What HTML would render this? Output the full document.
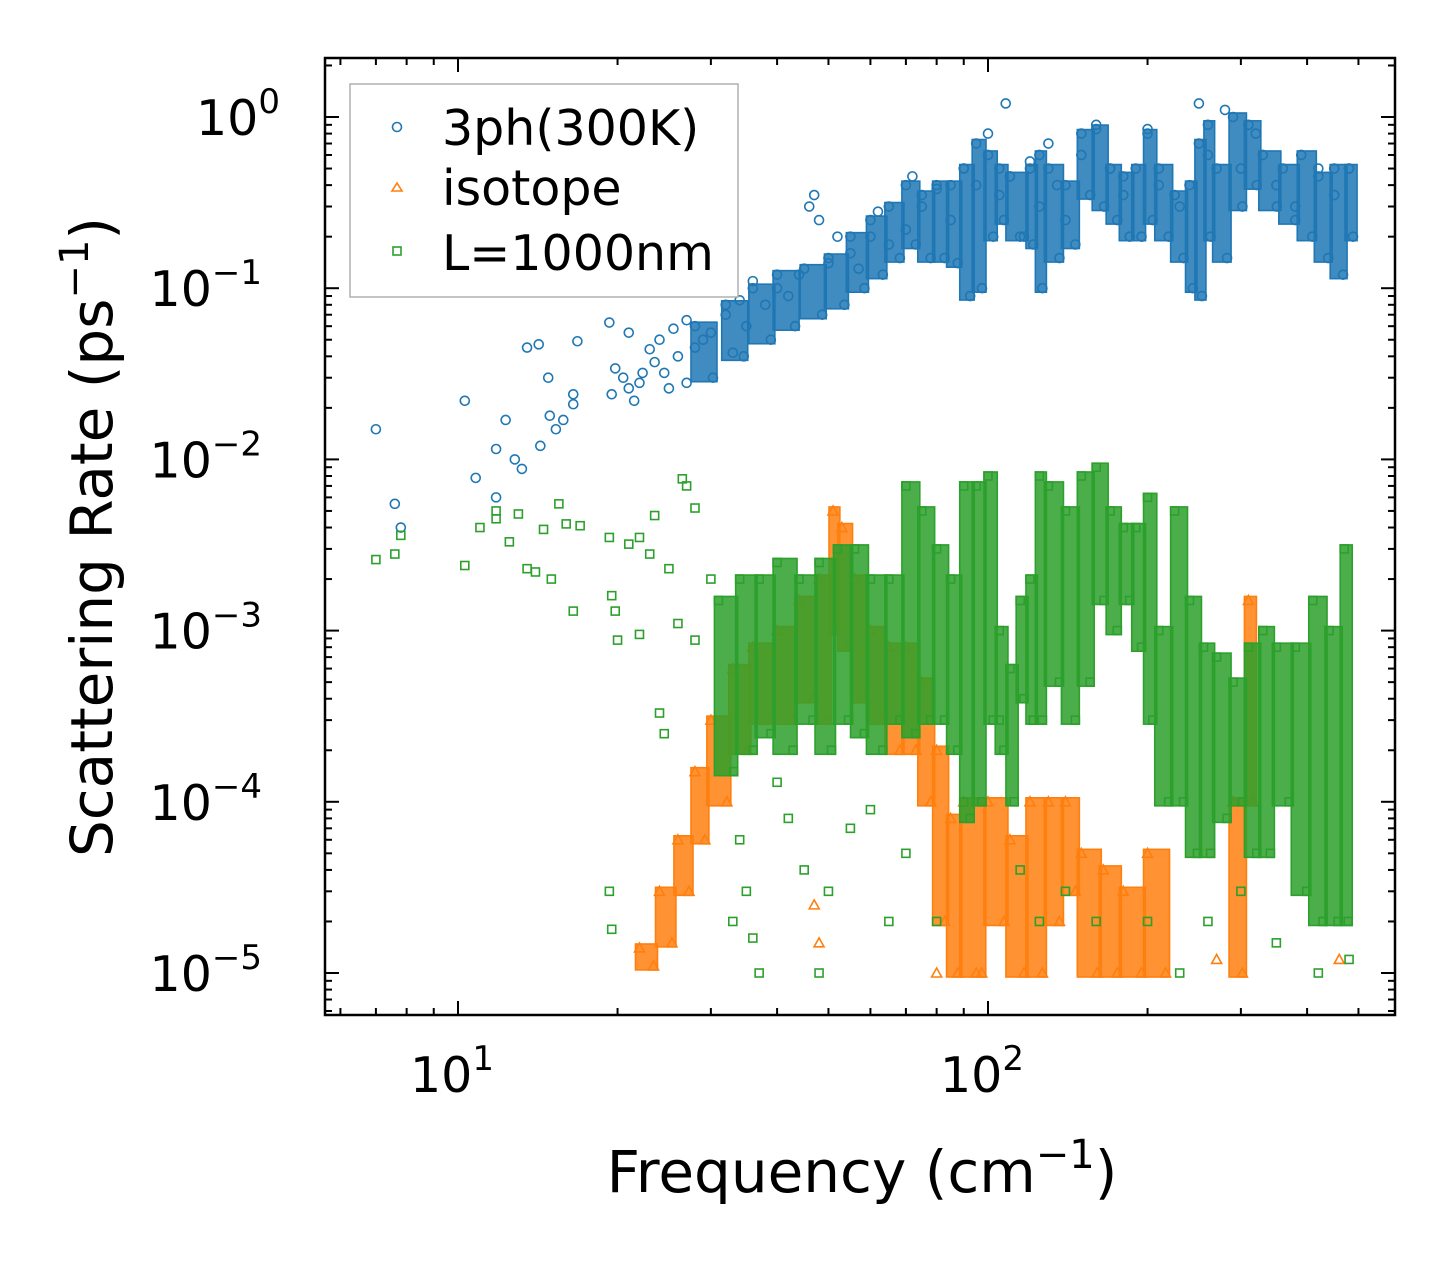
<!DOCTYPE html>
<html><head><meta charset="utf-8"><style>
body{margin:0;background:#fff;}
svg text{font-family:"DejaVu Sans","Liberation Sans",sans-serif;fill:#000;}
</style></head><body>
<svg id="chart" width="1455" height="1265" viewBox="0 0 1455 1265" xmlns="http://www.w3.org/2000/svg">
<g id="plot"></g>
<g id="axes"></g>
<text x="862" y="1192" font-size="58" text-anchor="middle">Frequency (cm<tspan dy="-24" font-size="40">−1</tspan><tspan dy="24">)</tspan></text>
<text transform="translate(112,537) rotate(-90)" font-size="58" text-anchor="middle">Scattering Rate (ps<tspan dy="-24" font-size="40">−1</tspan><tspan dy="24">)</tspan></text>
<g>
<rect x="350" y="84" width="388" height="213" fill="#fff" fill-opacity="0.8" stroke="#b0b0b0" stroke-width="1.5"/>
<g><circle cx="397" cy="127" r="4.5" fill="none" stroke="#1f77b4" stroke-width="1.6"/><text x="442" y="145" font-size="49">3ph(300K)</text></g>
<g><polygon points="397,183 402,191 392,191" fill="none" stroke="#ff7f0e" stroke-width="1.6"/><text x="442" y="205" font-size="49">isotope</text></g>
<g><rect x="393" y="247" width="8" height="8" fill="none" stroke="#2ca02c" stroke-width="1.6"/><text x="442" y="270" font-size="49">L=1000nm</text></g>
</g>
</svg>
<script>
const blueF=[7,7.6,7.8,10.3,10.8,11.8,11.8,12.3,12.8,13.2,13.5,14.2,14.3,14.8,14.9,15.3,15.8,16.5,16.8,16.5,19.3,19.5,19.8,20.5,21,21,21.5,22,22.3,23,23.5,24,24.5,25,25.5,26,27,27,28,29,30,32,33,34,35,36,38,40,42,44,46,47,48,50,52,55,57,60,62,65,70,72,75,80,85,90,95,100,105,108,110,115,120,125,130,135,140,150,160,170,180,200,210,230,250,260,280,300,320,350,380,420,450,480];
const blueR=[0.015,0.0055,0.004,0.022,0.0078,0.0115,0.006,0.017,0.01,0.0088,0.045,0.047,0.012,0.03,0.018,0.015,0.017,0.024,0.049,0.021,0.063,0.024,0.034,0.03,0.026,0.055,0.022,0.028,0.032,0.044,0.037,0.05,0.032,0.026,0.058,0.04,0.028,0.065,0.045,0.05,0.055,0.07,0.042,0.085,0.06,0.11,0.08,0.1,0.09,0.12,0.3,0.35,0.25,0.14,0.2,0.16,0.13,0.2,0.28,0.18,0.22,0.45,0.3,0.38,0.25,0.5,0.4,0.8,0.35,1.2,0.45,0.2,0.55,0.3,0.7,0.4,0.25,0.6,0.9,0.5,0.35,0.85,0.4,0.3,1.2,0.6,1.1,0.5,0.8,0.4,0.3,0.5,0.35,0.5];
const blueBandF=[28,32,36,40,45,50,55,60,65,70,75,80,85,90,95,100,105,110,120,125,130,140,150,160,170,180,190,200,210,225,240,250,260,270,290,310,330,360,390,420,450,480];
const blueBandLo=[0.03,0.04,0.05,0.06,0.07,0.08,0.1,0.12,0.15,0.18,0.15,0.15,0.14,0.09,0.1,0.2,0.25,0.2,0.18,0.1,0.15,0.18,0.35,0.3,0.25,0.2,0.2,0.25,0.2,0.15,0.1,0.09,0.2,0.15,0.3,0.4,0.3,0.25,0.2,0.15,0.12,0.2];
const blueBandHi=[0.06,0.08,0.1,0.12,0.13,0.15,0.2,0.25,0.3,0.4,0.35,0.4,0.4,0.5,0.7,0.6,0.5,0.45,0.5,0.6,0.5,0.4,0.8,0.85,0.5,0.45,0.5,0.8,0.5,0.35,0.4,0.7,0.9,0.5,1.0,0.9,0.6,0.5,0.6,0.45,0.5,0.5];
const isoF=[47,48,80,95,270,460];
const isoR=[0.000025,0.000015,0.00001,0.00001,0.000012,0.000012];
const isoBandF=[22,24,26,28,30,33,36,40,44,48,51,53,56,60,65,70,75,80,85,90,100,110,120,130,140,150,165,180,200,290,310];
const isoBandLo=[0.000011,0.000015,0.00003,0.00006,0.0001,0.0002,0.0003,0.0003,0.0004,0.0003,0.001,0.0008,0.0004,0.0003,0.0002,0.0002,0.0001,0.00002,0.00001,0.00001,0.00002,0.00001,0.00001,0.00002,0.00003,0.00001,0.00001,0.00001,0.00001,0.00001,0.0001];
const isoBandHi=[0.000014,0.00003,0.00006,0.00015,0.0003,0.0006,0.0008,0.001,0.0015,0.002,0.005,0.004,0.002,0.001,0.0008,0.0008,0.0005,0.0002,0.00008,0.0001,0.0001,0.00006,0.0001,0.0001,0.0001,0.00005,0.00004,0.00003,0.00005,0.0001,0.0015];
const bndF=[7,7.6,7.8,10.3,11,11.8,11.8,12.5,13,13.5,14,14.5,15,15.5,16,16.5,17,19.3,19.5,19.3,19.5,19.8,20,21,22,22,23,23.5,24,24.5,25,26,26.5,27,28,28,30,33,34,35,36,37,40,42,45,48,50,55,60,65,70,80,90,105,115,125,140,160,200,230,260,300,350,420,480];
const bndR=[0.0026,0.0028,0.0036,0.0024,0.004,0.0045,0.005,0.0033,0.0048,0.0023,0.0022,0.0039,0.002,0.0055,0.0042,0.0013,0.0041,0.0035,0.0016,0.00003,0.000018,0.0013,0.00088,0.0032,0.0035,0.00095,0.0028,0.0047,0.00033,0.00025,0.0023,0.0011,0.0077,0.007,0.0052,0.00088,0.002,0.00002,0.00006,0.00003,0.000016,0.00001,0.00013,0.00008,0.00004,0.00001,0.00003,0.00007,0.00009,0.00002,0.00005,0.00002,0.0001,0.0003,0.00004,0.00002,0.00003,0.00002,0.00002,0.00001,0.00002,0.00003,0.000015,0.00001,0.000012];
const bndBandF=[31,34,37,40,44,48,52,56,60,65,70,75,80,85,90,95,100,105,110,115,120,125,130,140,150,160,170,180,190,200,210,225,240,255,270,290,310,330,350,380,410,440,470];
const bndBandLo=[0.00015,0.0002,0.00025,0.0002,0.0003,0.0002,0.0003,0.00025,0.0002,0.0003,0.00025,0.0003,0.0003,0.0002,0.00008,0.0001,0.0003,0.0002,0.0001,0.0004,0.0003,0.0003,0.0005,0.0003,0.0005,0.0015,0.001,0.0015,0.0008,0.0003,0.0001,0.0001,0.00005,0.00005,0.00008,0.0001,0.00005,0.00005,0.0001,0.00003,0.00002,0.00002,0.00002];
const bndBandHi=[0.0015,0.002,0.002,0.0025,0.002,0.0025,0.003,0.003,0.002,0.002,0.007,0.005,0.003,0.002,0.007,0.007,0.008,0.001,0.0006,0.0015,0.002,0.008,0.007,0.005,0.008,0.009,0.005,0.004,0.004,0.006,0.001,0.005,0.0015,0.0008,0.0007,0.0005,0.0008,0.001,0.0008,0.0008,0.0015,0.001,0.003];
const xTickVals=[10,100];
const xTickLabels=["1","2"];
const yTickVals=[1,0.1,0.01,0.001,0.0001,0.00001];
const yTickLabels=["0","−1","−2","−3","−4","−5"];

const L=325,R=1395,T=58,B=1015;
const X=f=>458+530*(Math.log10(f)-1);
const Y=r=>117-171.2*Math.log10(r);
const NS="http://www.w3.org/2000/svg";
const plot=document.getElementById('plot'),axes=document.getElementById('axes');
function mk(tag,attrs,parent){const e=document.createElementNS(NS,tag);for(const k in attrs)e.setAttribute(k,attrs[k]);parent.appendChild(e);return e;}
function marker(kind,x,y,color,g){
  if(kind==='c')return mk('circle',{cx:x,cy:y,r:4.5,fill:'none',stroke:color,'stroke-width':1.6},g);
  if(kind==='t')return mk('polygon',{points:`${x},${y-5} ${x+5},${y+4} ${x-5},${y+4}`,fill:'none',stroke:color,'stroke-width':1.6},g);
  return mk('rect',{x:x-4,y:y-4,width:8,height:8,fill:'none',stroke:color,'stroke-width':1.6},g);
}
function series(name,kind,color,F,Rv,BF,BL,BH){
  const g=mk('g',{},plot);
  
  
  BF.forEach((f,i)=>{
    const x=X(f);const nx=i<BF.length-1?X(BF[i+1]):x+10;const w=Math.min(Math.max(nx-x+2,8),26);
    const y1=Y(BH[i])-4,y2=Y(BL[i])+4;
    const r=mk('rect',{x:x-4,y:y1,width:w,height:y2-y1,fill:color,'fill-opacity':0.85,stroke:color,'stroke-width':1.6},g);
    
    
    marker(kind,x,Y(BH[i]),color,g);marker(kind,x+w-8,Y(BL[i]),color,g);
  });
  F.forEach((f,i)=>{
    const m=marker(kind,X(f),Y(Rv[i]),color,g);
    
    
  });
}
series('series-3ph','c','#1f77b4',blueF,blueR,blueBandF,blueBandLo,blueBandHi);
series('series-isotope','t','#ff7f0e',isoF,isoR,isoBandF,isoBandLo,isoBandHi);
series('series-boundary','s','#2ca02c',bndF,bndR,bndBandF,bndBandLo,bndBandHi);

mk('rect',{x:L,y:T,width:R-L,height:B-T,fill:'none',stroke:'#000','stroke-width':2.5},axes);
for(let d=0;d<=2;d++)for(let m=1;m<10;m++){
  const f=m*Math.pow(10,d);const x=X(f);if(x<L||x>R)continue;const len=m===1?14:7;
  mk('line',{x1:x,y1:B,x2:x,y2:B-len,stroke:'#000','stroke-width':2},axes);
  mk('line',{x1:x,y1:T,x2:x,y2:T+len,stroke:'#000','stroke-width':2},axes);
}
xTickVals.forEach((v,i)=>{
  const t=mk('text',{x:X(v)-6,y:1092,'font-size':49,'text-anchor':'middle'},axes);
  t.textContent='10';
  const s=mk('tspan',{dy:-22,'font-size':34},t);s.textContent=xTickLabels[i];
  
  
});
for(let d=-6;d<=0;d++)for(let m=1;m<10;m++){
  const r=m*Math.pow(10,d);const y=Y(r);if(y<T||y>B)continue;const len=m===1?14:7;
  mk('line',{x1:L,y1:y,x2:L+len,y2:y,stroke:'#000','stroke-width':2},axes);
  mk('line',{x1:R,y1:y,x2:R-len,y2:y,stroke:'#000','stroke-width':2},axes);
}
yTickVals.forEach((v,i)=>{
  const t=mk('text',{x:i===0?280:262,y:Y(v)+18,'font-size':49,'text-anchor':'end'},axes);
  t.textContent='10';
  const s=mk('tspan',{dy:-22,'font-size':34},t);s.textContent=yTickLabels[i];
  
  
});
</script>
</body></html>
